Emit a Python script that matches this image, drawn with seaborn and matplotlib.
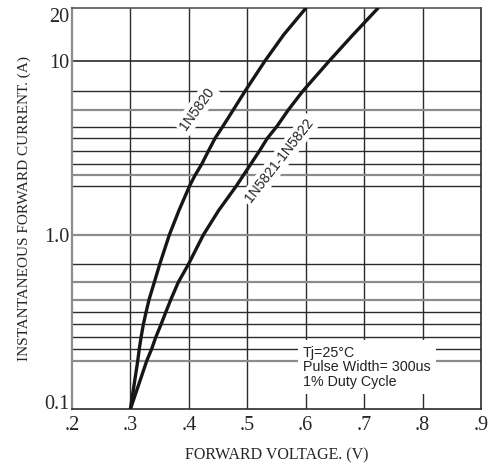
import matplotlib
matplotlib.use("Agg")
import matplotlib.pyplot as plt
from matplotlib.ticker import NullLocator
import pandas as pd
import seaborn as sns

# ---- data ----
i_levels = [0.10, 0.189, 0.222, 0.258, 0.306, 0.359, 0.424, 0.535, 0.676, 1.00, 1.38,
            1.90, 2.20, 2.55, 3.03, 3.59, 4.19, 5.23, 6.69, 10.0, 14.1, 20.0]
v_1n5820 = [0.300, 0.3125, 0.3152, 0.3182, 0.3221, 0.3267, 0.3318, 0.3409, 0.3500, 0.3666, 0.3830,
            0.4009, 0.4106, 0.4221, 0.4334, 0.4449, 0.4580, 0.4762, 0.4962, 0.5305, 0.5623, 0.600]
v_1n5821 = [0.300, 0.3279, 0.3365, 0.3433, 0.3524, 0.3604, 0.3690, 0.3820, 0.3991, 0.4248, 0.4509,
            0.4808, 0.4933, 0.5060, 0.5207, 0.5344, 0.5505, 0.5704, 0.5950, 0.6406, 0.6810, 0.7235]
curve_names = ["1N5820", "1N5821-1N5822"]

x_ticks = [0.2, 0.3, 0.4, 0.5, 0.6, 0.7, 0.8, 0.9]
x_tick_labels = [".2", ".3", ".4", ".5", ".6", ".7", ".8", ".9"]
y_ticks = [0.1, 1.0, 10.0, 20.0]
y_tick_labels = ["0.1", "1.0", "10", "20"]
y_grid_major = [1.0, 10.0]
y_grid_minor = [0.189, 0.222, 0.258, 0.306, 0.359, 0.424, 0.535, 0.676,
                1.90, 2.20, 2.55, 3.03, 3.59, 4.19, 5.23, 6.69]
y_grid_minor_dark = [False, True, True, True, True, False, False, True,
                     True, False, True, True, True, True, False, True]
conditions = ["Tj=25°C", "Pulse Width= 300us", "1% Duty Cycle"]
x_label = "FORWARD VOLTAGE. (V)"
y_label = "INSTANTANEOUS FORWARD CURRENT. (A)"

df = pd.concat([
    pd.DataFrame({"V": v_1n5820, "I": i_levels, "device": curve_names[0]}),
    pd.DataFrame({"V": v_1n5821, "I": i_levels, "device": curve_names[1]}),
], ignore_index=True)

sns.set_theme(style="white")
plt.rcParams["font.family"] = ["Liberation Sans", "DejaVu Sans"]

DARK = "#2b2b2b"
GRAY = "#8c8c8c"
SERIF = ["Liberation Serif", "DejaVu Serif"]

fig = plt.figure(figsize=(4.93, 4.68), dpi=100)
ax = fig.add_axes([72 / 493, 1 - 409 / 468, 409 / 493, (409 - 8.3) / 468])

ax.set_yscale("log")
ax.set_xlim(0.2, 0.9)
ax.set_ylim(0.1, 20)

# grid
for x in x_ticks[1:-1]:
    ax.axvline(x, color=DARK, lw=1.0, zorder=1)
for y in y_grid_major:
    ax.axhline(y, color=GRAY if y == 1.0 else DARK, lw=1.6 if y == 1.0 else 1.2, zorder=1)
for y, dark in zip(y_grid_minor, y_grid_minor_dark):
    ax.axhline(y, color=DARK if dark else GRAY, lw=1.0 if dark else 1.6, zorder=1)

sns.lineplot(data=df, x="V", y="I", hue="device", units="device", estimator=None,
             sort=False, palette=["#161616", "#161616"], lw=2.4, legend=False,
             ax=ax, zorder=3)
for line in ax.get_lines():
    line.set_solid_joinstyle("round")

ax.set_xticks(x_ticks)
ax.set_xticklabels(x_tick_labels, fontfamily=SERIF, fontsize=14.5)
ax.set_yticks(y_ticks)
ax.set_yticklabels(y_tick_labels, fontfamily=SERIF, fontsize=14.5)
ax.yaxis.set_minor_locator(NullLocator())
ax.tick_params(axis="both", length=0)
ax.tick_params(axis="x", pad=5)
ax.tick_params(axis="y", pad=2)
ylabels = ax.get_yticklabels()
ylabels[-1].set_va("top")
ylabels[0].set_va("baseline")

ax.set_xlabel(x_label, fontfamily=SERIF, fontsize=11.5, labelpad=9)
ax.set_ylabel(y_label, fontfamily=SERIF, fontsize=11, labelpad=9)

for side, col, lw in [("top", "#555555", 1.2), ("right", DARK, 1.2),
                      ("bottom", DARK, 1.2), ("left", GRAY, 1.6)]:
    ax.spines[side].set_color(col)
    ax.spines[side].set_linewidth(lw)
    ax.spines[side].set_visible(True)

# curve labels
ax.text(0.414, 5.3, curve_names[0], rotation=54, ha="center", va="center",
        fontsize=10, color="#222222", zorder=2,
        bbox=dict(facecolor="white", edgecolor="none", pad=2))
ax.text(0.555, 2.67, curve_names[1], rotation=52, ha="center", va="center",
        fontsize=10, color="#222222", zorder=2,
        bbox=dict(facecolor="white", edgecolor="none", pad=2))

# conditions box
ax.text(0.565, 0.104, "\n".join(conditions), transform=ax.transAxes,
        ha="left", va="center", fontsize=10.3, linespacing=1.05, color="#222222",
        zorder=2, bbox=dict(facecolor="white", edgecolor="none", pad=4))

fig.savefig("out.png", dpi=100)
